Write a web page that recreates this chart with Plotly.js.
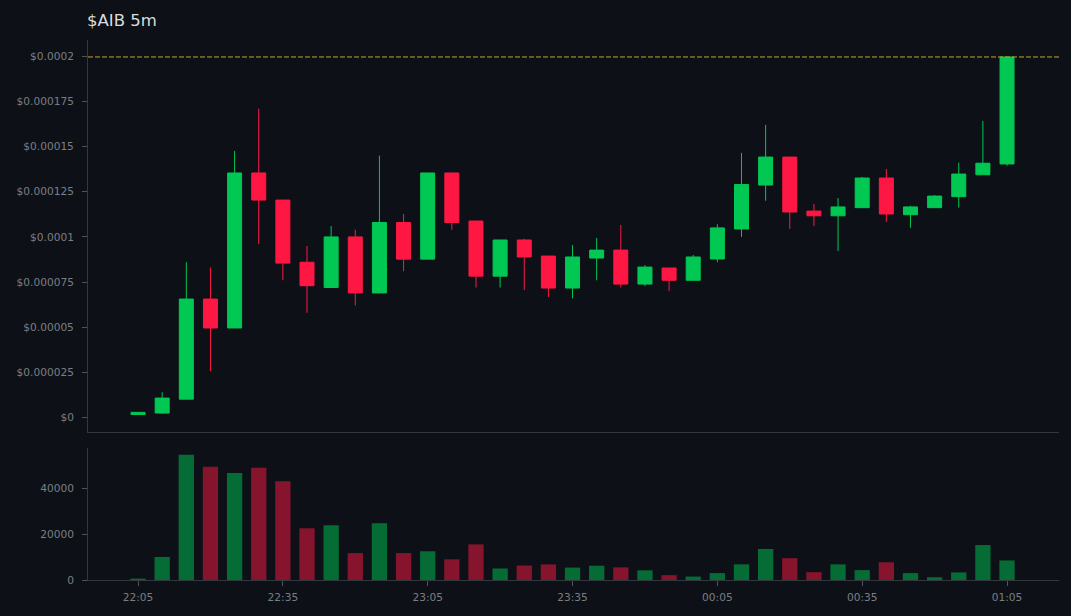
<!DOCTYPE html>
<html>
<head>
<meta charset="utf-8">
<script src="https://cdn.plot.ly/plotly-3.0.1.min.js"></script>
<style>html,body{margin:0;padding:0;background:#0d1117;overflow:hidden}</style>
</head>
<body>
<div id="chart" style="width:1071px;height:616px"></div>
<script>
const times = ["22:05","22:10","22:15","22:20","22:25","22:30","22:35","22:40","22:45","22:50","22:55","23:00","23:05","23:10","23:15","23:20","23:25","23:30","23:35","23:40","23:45","23:50","23:55","00:00","00:05","00:10","00:15","00:20","00:25","00:30","00:35","00:40","00:45","00:50","00:55","01:00","01:05"];
const opens = [1.7e-6,2.5e-6,10.2e-6,65.6e-6,49.6e-6,135.4e-6,120.4e-6,86e-6,72e-6,100e-6,69e-6,108e-6,87.7e-6,135.4e-6,108.8e-6,78.3e-6,98.3e-6,89.4e-6,71.7e-6,88.3e-6,92.7e-6,73.9e-6,82.8e-6,76e-6,87.8e-6,104.4e-6,128.7e-6,144.2e-6,114.3e-6,111.7e-6,116.2e-6,132.6e-6,112.3e-6,116.2e-6,122.3e-6,134.4e-6,140.4e-6];
const highs = [3e-6,14e-6,86e-6,83e-6,147.6e-6,171e-6,120.4e-6,95e-6,106e-6,104e-6,145e-6,112.7e-6,135.4e-6,135.4e-6,108.8e-6,98.3e-6,99e-6,89.4e-6,95.5e-6,99.4e-6,106.6e-6,84.4e-6,82.8e-6,90e-6,107e-6,146.5e-6,162e-6,144.2e-6,118.2e-6,121.5e-6,133.2e-6,137.6e-6,117.2e-6,123.2e-6,141.1e-6,164.2e-6,199.6e-6];
const lows = [1.5e-6,2.5e-6,10.2e-6,25.7e-6,49.6e-6,96e-6,76e-6,58e-6,71.7e-6,62e-6,69e-6,81e-6,87.7e-6,104e-6,72e-6,72e-6,70.6e-6,66.7e-6,66e-6,76e-6,72e-6,72.8e-6,70e-6,76e-6,86e-6,100e-6,120e-6,104.4e-6,106e-6,92.2e-6,116.2e-6,108.3e-6,105.1e-6,116.2e-6,116.2e-6,134.4e-6,139.4e-6];
const closes = [2.9e-6,10.8e-6,65.6e-6,49.6e-6,135.4e-6,120.4e-6,85.5e-6,73e-6,100e-6,69e-6,108e-6,87.7e-6,135.4e-6,108e-6,78.3e-6,98.3e-6,88.9e-6,71.7e-6,88.9e-6,92.7e-6,73.9e-6,83.3e-6,76e-6,88.9e-6,105e-6,129e-6,144.2e-6,113.8e-6,111.7e-6,116.6e-6,132.6e-6,112.7e-6,116.6e-6,122.6e-6,134.8e-6,140.8e-6,199.6e-6];
const volumes = [600,10000,54500,49200,46500,48800,43000,22500,23800,11700,24700,11700,12500,9000,15500,5000,6300,6800,5400,6200,5500,4200,2100,1500,3000,6800,13500,9500,3400,6800,4300,7700,3000,1200,3300,15200,8500];
const priceTicks = [0,0.000025,0.00005,0.000075,0.0001,0.000125,0.00015,0.000175,0.0002];
const priceLabels = ["$0","$0.000025","$0.00005","$0.000075","$0.0001","$0.000125","$0.00015","$0.000175","$0.0002"];
const volumeTicks = [0,20000,40000];
const timeTicks = ["22:05","22:35","23:05","23:35","00:05","00:35","01:05"];
const lastPrice = 199.6e-6;

const stamp = t => (t < "12:00" ? "2024-01-02 " : "2024-01-01 ") + t + ":00";
const dates = times.map(stamp);
const GREEN = "#00c853", RED = "#ff1744";
const barColors = closes.map((c,i) => c >= opens[i] ? "rgba(0,200,83,0.5)" : "rgba(255,23,68,0.5)");
const FONT = "DejaVu Sans, sans-serif";
const axisLine = "#33373e";
const tickLine = "#4f535a";
const tickCol = "#7a7e83";
const TICK = 10.6;

const candle = {
  type: "candlestick", x: dates, open: opens, high: highs, low: lows, close: closes,
  xaxis: "x", yaxis: "y", showlegend: false, hoverinfo: "skip",
  increasing: {line:{color:GREEN,width:1}, fillcolor:GREEN},
  decreasing: {line:{color:RED,width:1}, fillcolor:RED}
};
const vol = {
  type: "bar", x: dates, y: volumes, xaxis: "x2", yaxis: "y2", showlegend: false,
  marker: {color: barColors, line:{width:0}}, width: 190000, hoverinfo: "skip"
};
const xRange = ["2024-01-01 21:54:38", "2024-01-02 01:15:46"];
const layout = {
  width: 1071, height: 616,
  paper_bgcolor: "#0d1117", plot_bgcolor: "#0d1117",
  margin: {l:88, r:12, t:40, b:36, pad:0},
  font: {family: FONT, color: tickCol, size: TICK},
  showlegend: false, boxmode: "overlay", boxgap: 0.42, boxgroupgap: 0,
  title: {text: "$AIB 5m", x: 87/1071, xanchor: "left", y: 1-20/616, yanchor: "middle",
          font: {family: FONT, size: 16.5, color: "#d9dcdf"}},
  xaxis: {type:"date", domain:[0,1], range:xRange, anchor:"y", rangeslider:{visible:false},
          showgrid:false, zeroline:false, showticklabels:false, ticks:"",
          showline:true, linecolor:axisLine, linewidth:1},
  yaxis: {domain:[0.274,1], range:[-8e-6,209e-6], tickmode:"array", tickvals:priceTicks, ticktext:priceLabels,
          showgrid:false, zeroline:false, ticks:"outside", ticklen:5, tickcolor:tickLine, tickwidth:1, ticklabelstandoff:6,
          showline:true, linecolor:axisLine, linewidth:1, tickfont:{size:TICK,color:tickCol}},
  xaxis2: {type:"date", domain:[0,1], range:xRange, anchor:"y2", tickmode:"array", tickvals:timeTicks.map(stamp), ticktext:timeTicks,
          showgrid:false, zeroline:false, ticks:"outside", ticklen:5, tickcolor:tickLine, tickwidth:1, ticklabelstandoff:2,
          showline:true, linecolor:axisLine, linewidth:1, tickfont:{size:TICK,color:tickCol}},
  yaxis2: {domain:[0,0.2444], range:[0,57400], tickmode:"array", tickvals:volumeTicks, ticktext:volumeTicks.map(String),
          showgrid:false, zeroline:false, ticks:"outside", ticklen:5, tickcolor:tickLine, tickwidth:1, ticklabelstandoff:6,
          showline:true, linecolor:axisLine, linewidth:1, tickfont:{size:TICK,color:tickCol}},
  shapes: [{type:"line", xref:"paper", x0:0, x1:1, yref:"y", y0:lastPrice, y1:lastPrice,
            line:{color:"#c9a227", width:1, dash:"5px,2px"}}]
};
Plotly.newPlot("chart", [vol, candle], layout, {displayModeBar:false, staticPlot:true});
</script>
</body>
</html>
